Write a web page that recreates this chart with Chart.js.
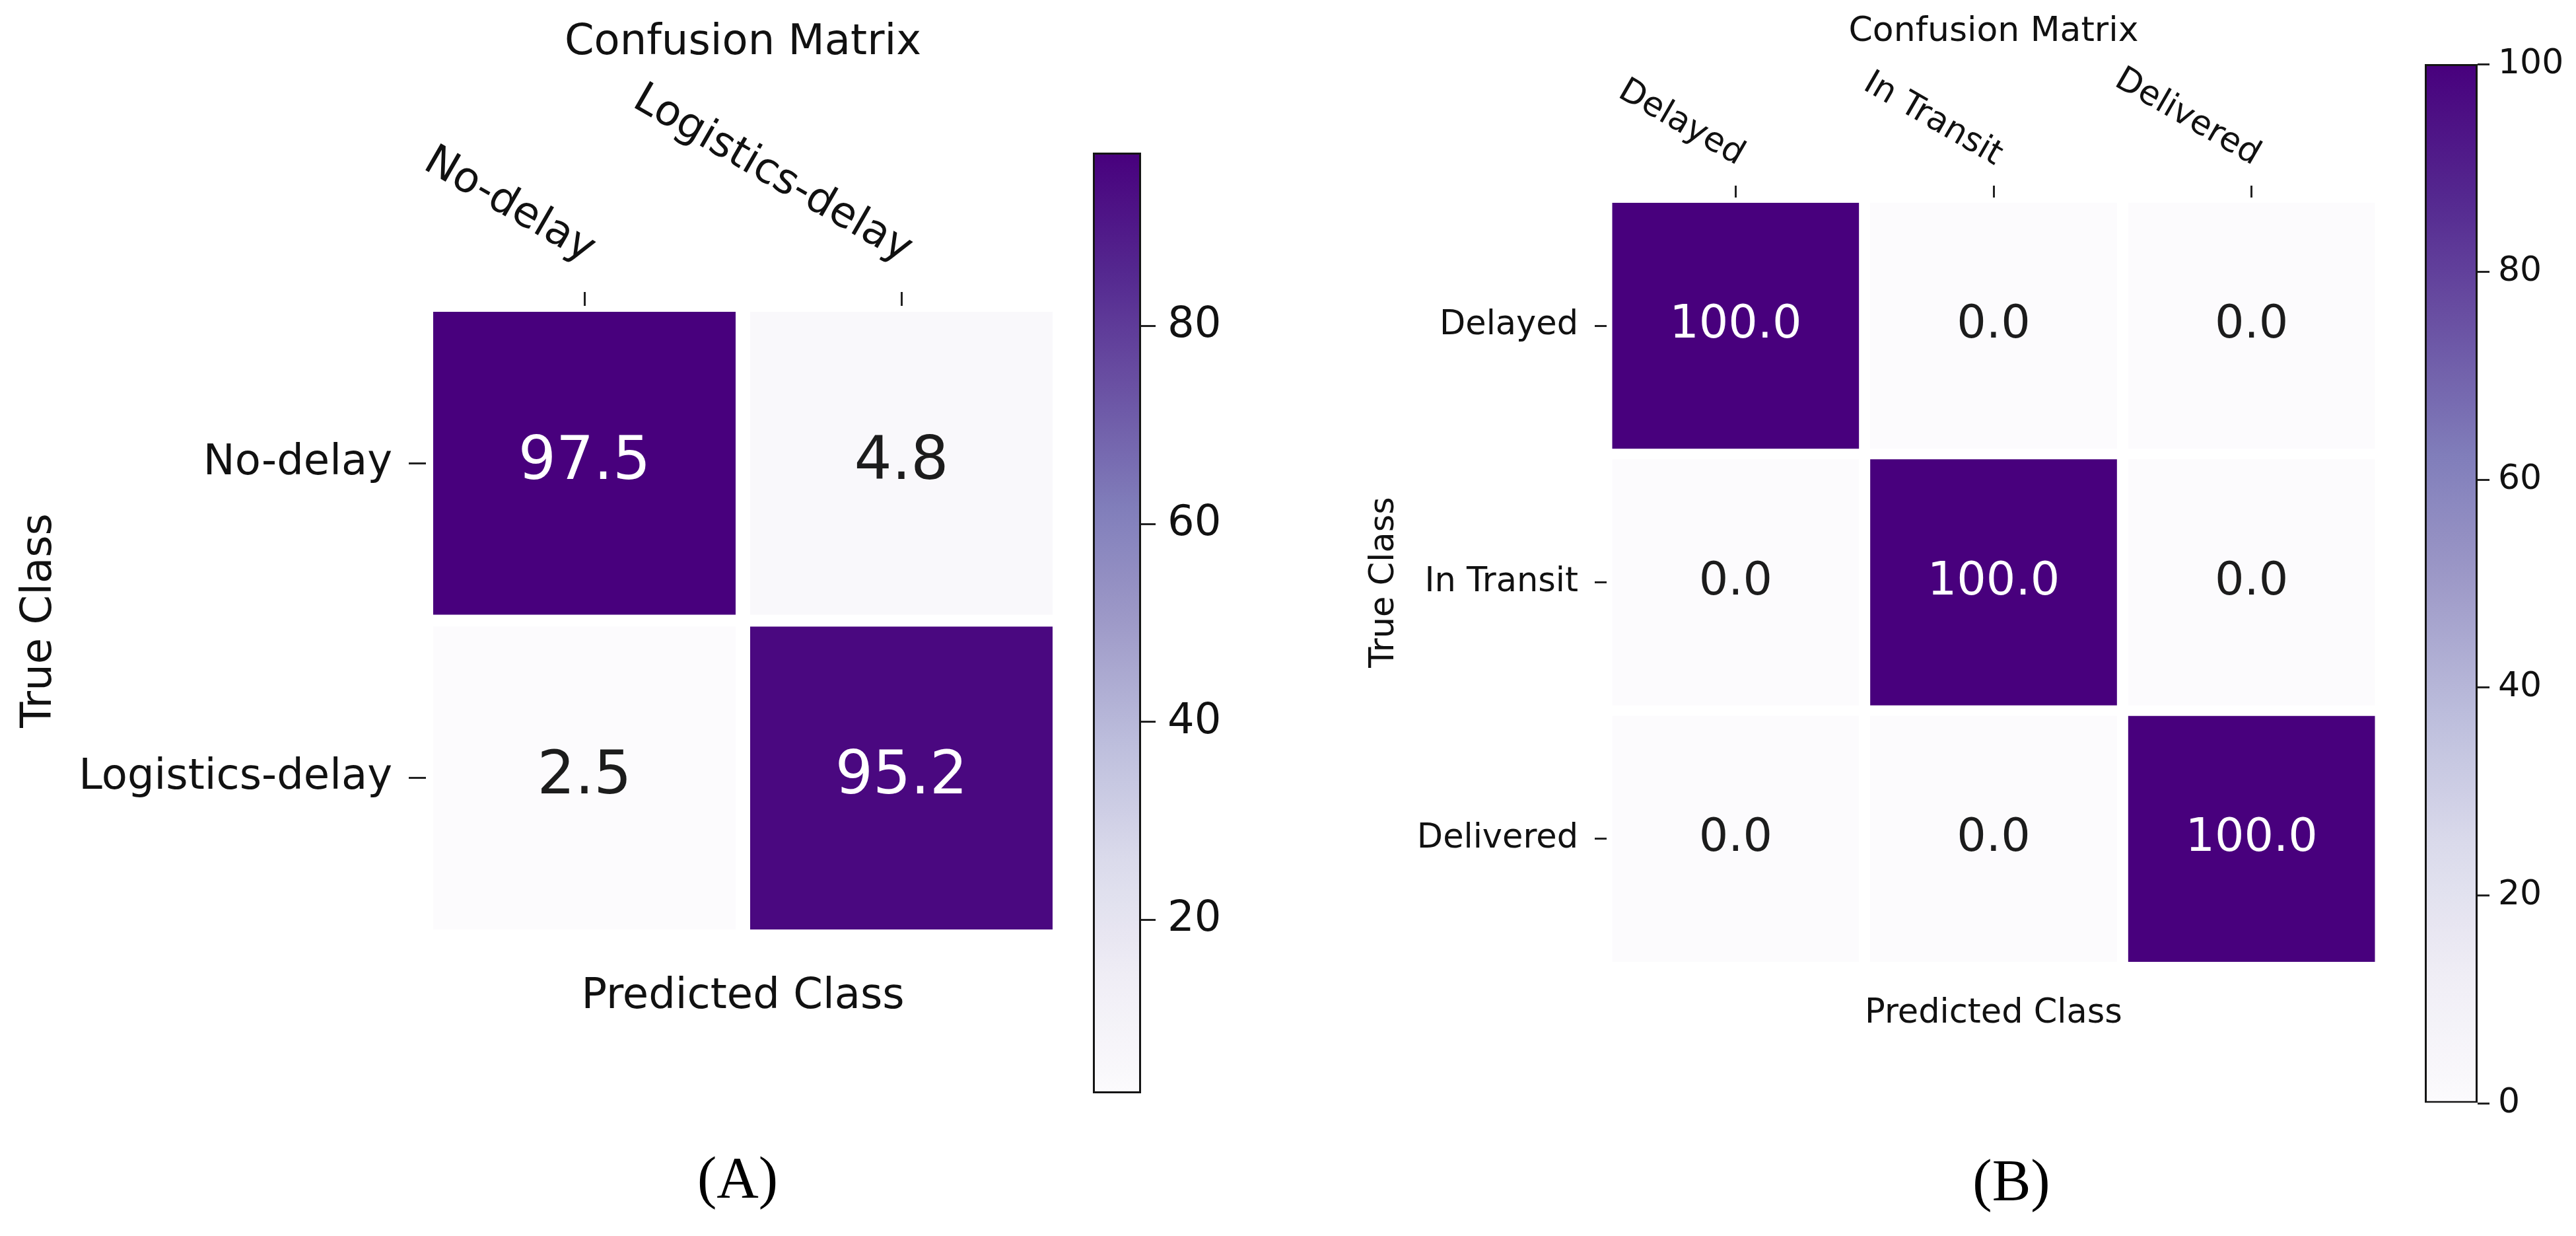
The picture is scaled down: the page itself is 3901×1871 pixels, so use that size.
<!DOCTYPE html>
<html>
<head>
<meta charset="utf-8">
<script src="https://cdn.jsdelivr.net/npm/chart.js@4.4.1/dist/chart.umd.min.js"></script>
<style>
html,body{margin:0;padding:0;background:#ffffff;width:3901px;height:1871px;overflow:hidden;position:relative}
canvas{position:absolute}
.panel{position:absolute;font-family:'Liberation Serif','Times New Roman',serif;font-size:88px;line-height:1;color:#000;transform:translate(-50%,-50%);white-space:nowrap}
</style>
</head>
<body>
<canvas id="hmA" width="1640" height="1560" style="left:0px;top:0px;width:1640px;height:1560px"></canvas>
<canvas id="cbA" width="350" height="1620" style="left:1600px;top:150px;width:350px;height:1620px"></canvas>
<canvas id="hmB" width="1620" height="1600" style="left:2000px;top:0px;width:1620px;height:1600px"></canvas>
<canvas id="cbB" width="281" height="1760" style="left:3620px;top:0px;width:281px;height:1760px"></canvas>
<div class="panel" style="left:1117px;top:1783px">(A)</div>
<div class="panel" style="left:3046px;top:1787px">(B)</div>
<script>
// ---------- data ----------
const classesA = ['No-delay', 'Logistics-delay'];
const rowNoDelay = [97.5, 4.8];
const rowLogisticsDelay = [2.5, 95.2];
const matrixA = [rowNoDelay, rowLogisticsDelay];
const rangeA = [2.5, 97.5];
const colorbarTicksA = [20, 40, 60, 80];

const classesB = ['Delayed', 'In Transit', 'Delivered'];
const rowDelayed = [100.0, 0.0, 0.0];
const rowInTransit = [0.0, 100.0, 0.0];
const rowDelivered = [0.0, 0.0, 100.0];
const matrixB = [rowDelayed, rowInTransit, rowDelivered];
const rangeB = [0, 100];
const colorbarTicksB = [0, 20, 40, 60, 80, 100];

const chartTitle = 'Confusion Matrix';
const xTitle = 'Predicted Class';
const yTitle = 'True Class';

// Purples colormap stops
const purples = ['#fcfbfd', '#efedf5', '#dadaeb', '#bcbddc', '#9e9ac8', '#807dba', '#6a51a3', '#54278f', '#48007d'];

// ---------- helpers ----------
const FONT = "'DejaVu Sans', 'Noto Sans', sans-serif";
const TXT = '#111111';
Chart.defaults.font.family = FONT;
Chart.defaults.color = TXT;

function hexToRgb(h) {
  const n = parseInt(h.slice(1), 16);
  return [(n >> 16) & 255, (n >> 8) & 255, n & 255];
}
const purplesRgb = purples.map(hexToRgb);
function cmap(t) {
  t = Math.max(0, Math.min(1, t));
  const pos = t * (purplesRgb.length - 1);
  const i = Math.min(Math.floor(pos), purplesRgb.length - 2);
  const f = pos - i;
  const a = purplesRgb[i], b = purplesRgb[i + 1];
  const c = a.map((v, k) => Math.round(v + (b[k] - v) * f));
  return `rgb(${c[0]},${c[1]},${c[2]})`;
}
function normalizer(range) {
  return v => (v - range[0]) / (range[1] - range[0]);
}

const cellTextPlugin = {
  id: 'cellText',
  afterDatasetsDraw(chart, args, opts) {
    const ctx = chart.ctx;
    ctx.save();
    ctx.font = `${opts.size}px ${FONT}`;
    ctx.textAlign = 'center';
    ctx.textBaseline = 'middle';
    chart.data.datasets.forEach((ds, i) => {
      chart.getDatasetMeta(i).data.forEach((el, j) => {
        const v = ds.values[j];
        const p = el.getCenterPoint();
        ctx.fillStyle = opts.norm(v) > 0.5 ? '#ffffff' : '#1c1c1c';
        ctx.fillText(v.toFixed(1), p.x, p.y);
      });
    });
    ctx.restore();
  }
};

const topLabelsPlugin = {
  id: 'topLabels',
  afterDraw(chart, args, opts) {
    const sx = chart.scales.x;
    const top = chart.chartArea.top;
    const ctx = chart.ctx;
    ctx.save();
    ctx.font = `${opts.size}px ${FONT}`;
    ctx.fillStyle = TXT;
    ctx.textAlign = 'right';
    ctx.textBaseline = 'middle';
    sx.ticks.forEach((t, i) => {
      const x = sx.getPixelForTick(i);
      ctx.save();
      ctx.translate(x + opts.dx, top - opts.dy);
      ctx.rotate(opts.angle * Math.PI / 180);
      ctx.fillText(sx.getLabelForValue(t.value), 0, 0);
      ctx.restore();
    });
    ctx.restore();
  }
};

function makeHeatmap(id, classes, matrix, range, cfg) {
  const norm = normalizer(range);
  const datasets = matrix.map((row, i) => ({
    data: row.map(() => [i - 0.5, i + 0.5]),
    values: row,
    backgroundColor: row.map(v => cmap(norm(v))),
    borderColor: 'rgba(255,255,255,0)',
    borderWidth: cfg.cellBorder,
    borderSkipped: false,
    grouped: false,
    barPercentage: 1,
    categoryPercentage: 1,
    inflateAmount: 0,
    xAxisID: 'x',
    yAxisID: 'y'
  }));
  const tickGrid = len => ({
    display: true, offset: false, drawOnChartArea: false, drawTicks: true,
    tickLength: len, tickWidth: 3, tickColor: '#222', color: '#222'
  });
  return new Chart(document.getElementById(id), {
    type: 'bar',
    data: { labels: classes, datasets },
    plugins: [cellTextPlugin, topLabelsPlugin],
    options: {
      responsive: false,
      animation: false,
      layout: { padding: { left: 0, right: cfg.padRight, top: 0, bottom: 0 } },
      plugins: {
        legend: { display: false },
        tooltip: { enabled: false },
        title: {
          display: true, text: chartTitle, fullSize: false, color: TXT,
          font: { family: FONT, size: cfg.titleSize, weight: 'normal', lineHeight: 1.2 },
          padding: { top: cfg.titlePadTop, bottom: 0 }
        },
        cellText: { size: cfg.cellFont, norm },
        topLabels: { size: cfg.labelFont, dx: cfg.topDx, dy: cfg.topDy, angle: 30 }
      },
      scales: {
        x: {
          type: 'category', position: 'top', offset: true,
          ticks: { display: false },
          grid: tickGrid(cfg.xTickLen),
          border: { display: false },
          afterFit: s => { s.height = cfg.xHeight; }
        },
        x2: {
          type: 'category', position: 'bottom', offset: true,
          ticks: { display: false },
          grid: { display: false },
          border: { display: false },
          title: {
            display: true, text: xTitle, color: TXT,
            font: { family: FONT, size: cfg.labelFont, lineHeight: 1.2 },
            padding: { top: 0, bottom: cfg.x2TitlePad }
          },
          afterFit: s => { s.height = cfg.x2Height; }
        },
        y: {
          type: 'linear', position: 'left',
          min: -0.5, max: classes.length - 0.5, reverse: true,
          afterBuildTicks: s => { s.ticks = classes.map((_, i) => ({ value: i })); },
          ticks: {
            callback: v => classes[v], color: TXT, padding: cfg.yTickPad,
            font: { family: FONT, size: cfg.labelFont }
          },
          grid: tickGrid(cfg.yTickLen),
          border: { display: false },
          title: {
            display: true, text: yTitle, color: TXT,
            font: { family: FONT, size: cfg.labelFont, lineHeight: 1.2 },
            padding: { top: cfg.yTitlePad, bottom: 0 }
          },
          afterFit: s => { s.width = cfg.yWidth; }
        }
      }
    }
  });
}

function makeColorbar(id, range, ticks, cfg) {
  const gradient = c => {
    const ca = c.chart.chartArea;
    if (!ca) return purples[0];
    const g = c.chart.ctx.createLinearGradient(0, ca.bottom, 0, ca.top);
    for (let k = 0; k <= 40; k++) g.addColorStop(k / 40, cmap(k / 40));
    return g;
  };
  return new Chart(document.getElementById(id), {
    type: 'bar',
    data: {
      labels: [''],
      datasets: [{
        data: [[range[0], range[1]]],
        backgroundColor: gradient,
        borderColor: '#151515',
        borderWidth: cfg.outline,
        borderSkipped: false,
        barPercentage: 1,
        categoryPercentage: 1,
        inflateAmount: 0
      }]
    },
    options: {
      responsive: false,
      animation: false,
      layout: { padding: { left: cfg.padLeft, right: 0, top: cfg.padTop, bottom: cfg.padBottom } },
      plugins: { legend: { display: false }, tooltip: { enabled: false } },
      scales: {
        x: { display: false },
        y: {
          position: 'right', min: range[0], max: range[1],
          afterBuildTicks: s => { s.ticks = ticks.map(v => ({ value: v })); },
          ticks: {
            callback: v => String(v), color: TXT, padding: cfg.tickPad,
            font: { family: FONT, size: cfg.font }
          },
          grid: {
            display: true, drawOnChartArea: false, drawTicks: true,
            tickLength: cfg.tickLen, tickWidth: 3, tickColor: '#222', color: '#222'
          },
          border: { display: false },
          afterFit: s => { s.width = cfg.yWidth; }
        }
      }
    }
  });
}

// ---------- panel A ----------
makeHeatmap('hmA', classesA, matrixA, rangeA, {
  yWidth: 645, padRight: 35,
  titleSize: 64, titlePadTop: 27, xHeight: 359.2,
  x2Height: 144, x2TitlePad: 12.6,
  yTitlePad: 21.6, labelFont: 64, cellFont: 90,
  xTickLen: 21, yTickLen: 26, yTickPad: 25,
  cellBorder: { left: 11, right: 11, top: 9, bottom: 9 },
  topDx: 10, topDy: 80
});
makeColorbar('cbA', rangeA, colorbarTicksA, {
  padLeft: 55, padTop: 81, padBottom: 115, yWidth: 222,
  font: 64, tickLen: 22, tickPad: 18, outline: 3
});

// ---------- panel B ----------
makeHeatmap('hmB', classesB, matrixB, rangeB, {
  yWidth: 433, padRight: 15,
  titleSize: 52, titlePadTop: 16.8, xHeight: 219.8,
  x2Height: 136, x2TitlePad: 34.4,
  yTitlePad: 66.4, labelFont: 51, cellFont: 70,
  xTickLen: 18, yTickLen: 18, yTickPad: 25,
  cellBorder: { left: 8.5, right: 8.5, top: 8, bottom: 8 },
  topDx: 8.5, topDy: 60
});
makeColorbar('cbB', rangeB, colorbarTicksB, {
  padLeft: 52, padTop: 97, padBottom: 90, yWidth: 149,
  font: 52, tickLen: 18, tickPad: 13, outline: 3
});
</script>
</body>
</html>
